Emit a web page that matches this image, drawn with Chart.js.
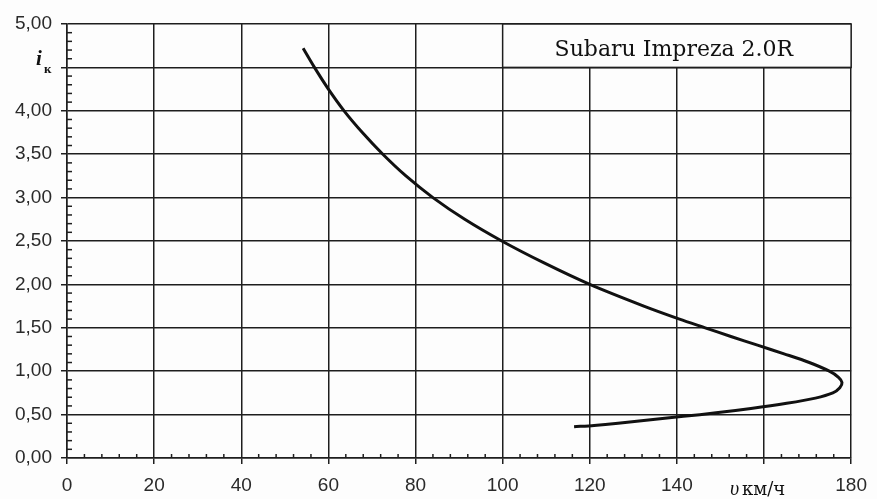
<!DOCTYPE html>
<html lang="ru">
<head>
  <meta charset="UTF-8" />
  <title>Subaru Impreza 2.0R</title>
  <script src="https://cdn.jsdelivr.net/npm/chart.js"></script>
  <style>
    body {
      margin: 0;
      background: #fff;
    }
    .wrap {
      width: 877px;
      height: 499px;
    }
  </style>
</head>
<body>
  <div class="wrap">
    <canvas id="gearChart" width="877" height="499"></canvas>
  </div>

  <script>
    // curve: speed (km/h) vs gear ratio i_k
    const speedKmh = [54.2, 56.8, 60.0, 63.6, 67.8, 72.5, 77.8, 84.0, 91.3, 99.8, 109.4, 120.0, 132.4, 140.6, 146.5, 152.4, 158.5, 164.6, 170.4, 175.0, 177.1, 177.9, 177.4, 175.8, 171.8, 165.2, 157.0, 149.0, 141.5, 134.0, 126.5, 121.0, 116.4];
    const gearRatio = [4.72, 4.50, 4.25, 4.00, 3.75, 3.50, 3.25, 3.00, 2.75, 2.50, 2.25, 2.00, 1.75, 1.60, 1.50, 1.40, 1.30, 1.20, 1.10, 1.00, 0.93, 0.87, 0.81, 0.75, 0.69, 0.63, 0.57, 0.52, 0.48, 0.44, 0.40, 0.375, 0.36];

    const xTicks = [0, 20, 40, 60, 80, 100, 120, 140, 160, 180];
    const yTicks = [0, 0.5, 1, 1.5, 2, 2.5, 3, 3.5, 4, 4.5, 5];
    const carName = 'Subaru Impreza 2.0R';

    const points = speedKmh.map((v, k) => ({ x: v, y: gearRatio[k] }));

    const ink = '#1e1e1e';

    const extras = {
      id: 'extras',
      beforeDraw(chart) {
        const c = chart.ctx;
        c.save();
        c.fillStyle = '#fdfdfd';
        c.fillRect(0, 0, chart.width, chart.height);
        c.restore();
      },
      afterDraw(chart) {
        const c = chart.ctx;
        const xs = chart.scales.x;
        const ys = chart.scales.y;
        c.save();
        c.strokeStyle = ink;
        c.lineWidth = 1.5;

        // minor ticks inside the plot
        for (let k = 0; k <= 45; k++) {
          if (k % 5 === 0) continue;
          const px = xs.getPixelForValue(k * 4);
          c.beginPath();
          c.moveTo(px, ys.bottom);
          c.lineTo(px, ys.bottom - 4);
          c.stroke();
        }
        for (let k = 0; k <= 50; k++) {
          if (k % 5 === 0) continue;
          const py = ys.getPixelForValue(k / 10);
          c.beginPath();
          c.moveTo(xs.left, py);
          c.lineTo(xs.left + 5, py);
          c.stroke();
        }

        // name box in the top right cell
        const bx = xs.getPixelForValue(100);
        const bw = xs.getPixelForValue(180) - bx;
        const by = ys.getPixelForValue(5);
        const bh = ys.getPixelForValue(4.5) - by;
        c.fillStyle = '#fdfdfd';
        c.fillRect(bx, by, bw, bh);
        c.strokeRect(bx, by, bw, bh);
        c.fillStyle = '#111';
        c.font = '22px "DejaVu Serif"';
        c.textAlign = 'center';
        c.textBaseline = 'alphabetic';
        c.fillText(carName, bx + bw / 2 - 3, by + bh / 2 + 10);

        // y axis symbol i_k in place of the 4,50 label
        const yk = ys.getPixelForValue(4.5);
        c.textAlign = 'left';
        c.font = 'italic bold 21px "Liberation Serif"';
        c.fillText('i', 36, yk - 2);
        c.font = 'bold 13px "Liberation Serif"';
        c.fillText('к', 44, yk + 6);

        // x axis symbol in place of the 160 label
        const xk = xs.getPixelForValue(160);
        c.font = 'italic 20px "Liberation Serif"';
        c.fillText('υ', xk - 34, 495);
        c.font = '18px "DejaVu Serif"';
        c.fillText('км/ч', xk - 22, 495);
        c.restore();
      }
    };

    new Chart(document.getElementById('gearChart'), {
      type: 'scatter',
      data: {
        datasets: [{
          data: points,
          showLine: true,
          borderColor: '#111',
          borderWidth: 3,
          pointRadius: 0,
          tension: 0.3,
          fill: false
        }]
      },
      options: {
        responsive: false,
        animation: false,
        layout: { padding: { top: 24, right: 19, left: 0, bottom: 0 } },
        plugins: {
          legend: { display: false },
          tooltip: { enabled: false }
        },
        scales: {
          x: {
            type: 'linear',
            min: 0,
            max: 180,
            afterBuildTicks: s => { s.ticks = xTicks.map(v => ({ value: v })); },
            afterFit: s => { s.height = 41; },
            ticks: {
              autoSkip: false,
              maxRotation: 0,
              padding: 10,
              color: '#2a2a2a',
              font: { family: 'Liberation Sans', size: 19 },
              callback: v => (v === 160 ? '' : String(v))
            },
            grid: { color: ink, lineWidth: 1.5, tickLength: 6 },
            border: { color: ink, width: 1.5 }
          },
          y: {
            min: 0,
            max: 5,
            afterBuildTicks: s => { s.ticks = yTicks.map(v => ({ value: v })); },
            afterFit: s => { s.width = 67; },
            ticks: {
              autoSkip: false,
              padding: 9,
              color: '#2a2a2a',
              font: { family: 'Liberation Sans', size: 19 },
              callback: v => (v === 4.5 ? '' : v.toFixed(2).replace('.', ','))
            },
            grid: { color: ink, lineWidth: 1.5, tickLength: 6 },
            border: { color: ink, width: 1.5 }
          }
        }
      },
      plugins: [extras]
    });
  </script>
</body>
</html>
